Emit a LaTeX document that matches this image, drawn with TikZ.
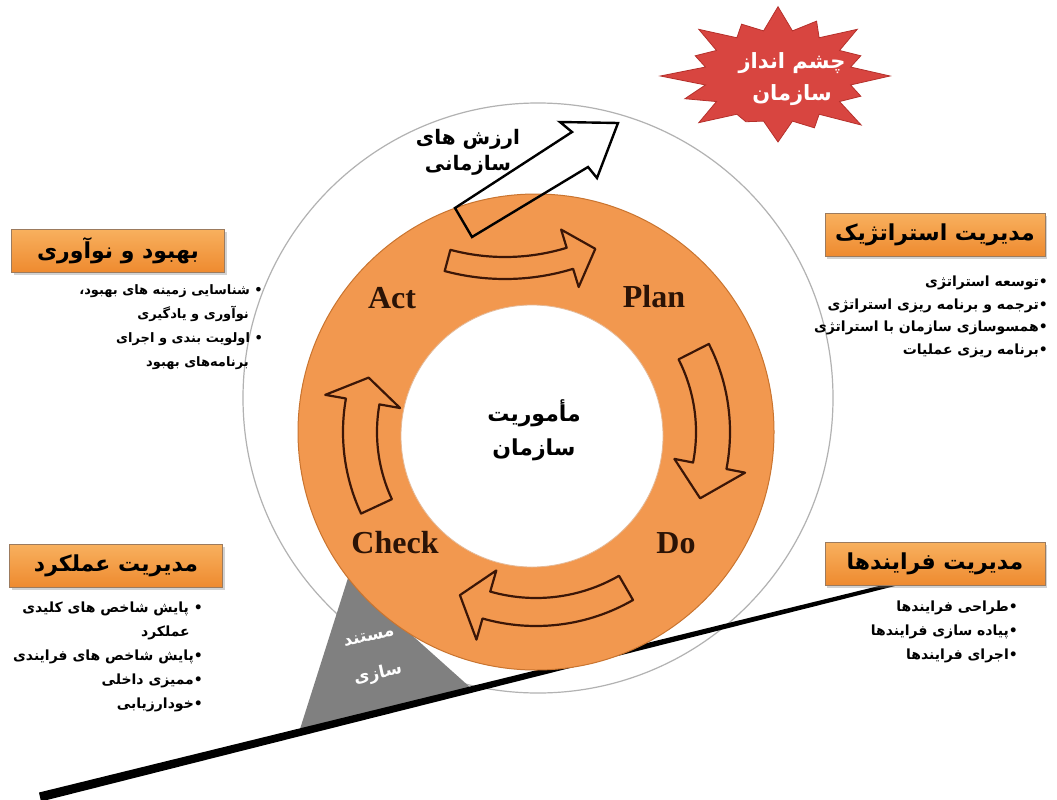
\documentclass[tikz,border=0pt]{standalone}
\usepackage{fontspec}
\setmainfont{Liberation Serif}
\newfontfamily\fa[Script=Arabic]{DejaVu Sans}
\TeXXeTstate=1
\usetikzlibrary{calc, shadows}
\definecolor{ringorange}{HTML}{F2984F}
\definecolor{ringedge}{HTML}{C9742F}
\definecolor{arrowedge}{HTML}{3B1607}
\definecolor{labelbrown}{HTML}{2B1306}
\definecolor{boxtop}{HTML}{F8B05E}
\definecolor{boxbottom}{HTML}{EE8A2F}
\definecolor{boxedge}{HTML}{9C7B5E}
\definecolor{starred}{HTML}{D84540}
\definecolor{staredge}{HTML}{B5302B}
\definecolor{docgray}{HTML}{808080}
\newcommand{\rtl}[1]{\beginR #1\endR}
% curved block arrow on a circle: centre, radius, half width, head half width, tail angle, head angle, tip angle
\newcommand{\cyclearrow}[7]{%
  \pgfmathsetmacro\arcout{#2+#3}\pgfmathsetmacro\arcin{#2-#3}%
  \pgfmathsetmacro\headout{#2+#4}\pgfmathsetmacro\headin{#2-#4}%
  \filldraw[cycleshape] ($(#1)+(#5:\arcout)$) arc[start angle=#5, end angle=#6, radius=\arcout]
    -- ($(#1)+(#6:\headout)$) -- ($(#1)+(#7:#2)$) -- ($(#1)+(#6:\headin)$)
    -- ($(#1)+(#6:\arcin)$) arc[start angle=#6, end angle=#5, radius=\arcin] -- cycle;}
\tikzset{
  headbox/.style={rectangle, draw=boxedge, top color=boxtop, bottom color=boxbottom, minimum width=213, minimum height=43, font=\fa\bfseries\fontsize{22}{26}\selectfont, drop shadow={shadow xshift=2pt, shadow yshift=-2pt, opacity=0.35}},
  listtext/.style={anchor=north east, align=right, inner sep=0pt, font=\fa\bfseries\fontsize{14}{24}\selectfont},
  cycleshape/.style={fill=ringorange, draw=arrowedge, line width=2.2, line join=round},
  valuearrow/.style={draw=black, line width=2.4, line join=miter},
  pdca/.style={font=\bfseries\fontsize{32}{36}\selectfont, text=labelbrown},
  fatext/.style={align=center, font=\fa\bfseries\fontsize{20}{26}\selectfont},
  doctext/.style={text=white, font=\fa\bfseries\fontsize{17}{20}\selectfont, rotate=12},
  visionstar/.style={fill=starred, draw=staredge, line width=0.8},
}
\begin{document}
\begin{tikzpicture}[x=1pt, y=-1pt]
\useasboundingbox[fill=white] (0,0) rectangle (1057,800);
\coordinate (disk) at (538,398);
\coordinate (ring) at (536,432);
\coordinate (core) at (532,436);
\coordinate (topbend) at (505,46);

% backdrop disk and documentation wedge
\filldraw[fill=white, draw=black!30, line width=1.2] (disk) circle[radius=295];
\fill[docgray] (348,578) -- (300,729) -- (472,689) -- cycle;

% ground line
\coordinate (groundA) at (40,797);
\coordinate (groundB) at (895,584);
\fill[black] ($(groundA)+(-1,-4.5)$) -- ($(groundB)+(0,-2)$) -- ($(groundB)+(0,2)$) -- ($(groundA)+(1,4.5)$) -- cycle;

% PDCA ring
\filldraw[fill=ringorange, draw=ringedge, line width=1] (ring) circle[radius=238];
\filldraw[fill=white, draw=ringedge!50, line width=0.8] (core) circle[radius=131];

\cyclearrow{topbend}{222}{11}{30}{105}{73}{66}
\cyclearrow{ring}{177}{17}{36}{-27}{11}{22}
\cyclearrow{ring}{180}{14}{36}{60}{106}{115}
\cyclearrow{ring}{176}{17}{38}{155}{190}{198}

% values arrow
\draw[valuearrow] (455,208) -- (572,132) -- (560,122) -- (618,123) -- (597,178) -- (588,167) -- (472,237) -- cycle;
\node[fatext] (values) at (468,152) {\rtl{ارزش های}\\\rtl{سازمانی}};

\node[pdca] (act) at (392,298) {Act};
\node[pdca] (plan) at (654,297) {Plan};
\node[pdca] (check) at (395,543) {Check};
\node[pdca] (do) at (676,543) {Do};
\node[fatext, font=\fa\bfseries\fontsize{22}{34}\selectfont] (mission) at (534,430) {\rtl{مأموریت}\\\rtl{سازمان}};
\node[doctext] (docs) at (369,637) {\rtl{مستند}};
\node[doctext] (docs2) at (378,674) {\rtl{سازی}};

% vision star
\coordinate (vision) at (778,76);
\filldraw[visionstar] ($(vision)+(0:112 and 66)$)
  \foreach \f [count=\i] in {0.8,1.05,0.85,1.0,0.75,1.0,0.9,1.05,0.8,1.0,0.85,1.05,0.9,1.0,0.8,1.0} {
    -- ($(vision)+({\i*22.5-11.25}:74 and 46)$) -- ($(vision)+({\i*22.5}:{112*\f} and {66*\f})$) } -- cycle;
\node[fatext, text=white, font=\fa\bfseries\fontsize{21}{32}\selectfont] (visiontext) at (792,79) {\rtl{چشم انداز}\\\rtl{سازمان}};

% side boxes
\node[headbox] (improve) at (118,251) {\rtl{بهبود و نوآوری}};
\node[headbox, minimum width=220] (strategy) at (935,235) {\rtl{مدیریت استراتژیک}};
\node[headbox] (perform) at (116,566) {\rtl{مدیریت عملکرد}};
\node[headbox, minimum width=220] (process) at (935,564) {\rtl{مدیریت فرایندها}};

\node[listtext, font=\fa\bfseries\fontsize{13}{24}\selectfont] (improvelist) at (263,284) {\rtl{• شناسایی زمینه های بهبود،}\\\rtl{\hspace*{14pt}نوآوری و یادگیری}\\\rtl{• اولویت بندی و اجرای}\\\rtl{\hspace*{14pt}برنامه‌های بهبود}};
\node[listtext, font=\fa\bfseries\fontsize{14}{22.4}\selectfont] (strategylist) at (1048,276) {\rtl{•توسعه استراتژی}\\\rtl{•ترجمه و برنامه ریزی استراتژی}\\\rtl{•همسوسازی سازمان با استراتژی}\\\rtl{•برنامه ریزی عملیات}};
\node[listtext] (performlist) at (203,602) {\rtl{• پایش شاخص های کلیدی}\\\rtl{\hspace*{13pt}عملکرد}\\\rtl{•پایش شاخص های فرایندی}\\\rtl{•ممیزی داخلی}\\\rtl{•خودارزیابی}};
\node[listtext] (processlist) at (1018,601) {\rtl{•طراحی فرایندها}\\\rtl{•پیاده سازی فرایندها}\\\rtl{•اجرای فرایندها}};
\end{tikzpicture}
\end{document}
